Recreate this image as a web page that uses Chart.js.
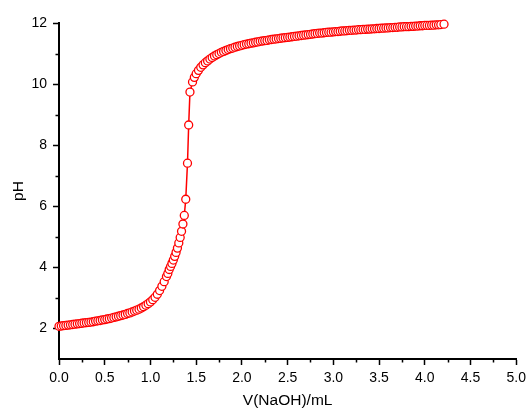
<!DOCTYPE html>
<html>
<head>
<meta charset="utf-8">
<script src="https://cdn.jsdelivr.net/npm/chart.js@4.4.1/dist/chart.umd.min.js"></script>
<style>
  body { margin: 0; background: #fff; }
  #wrap { width: 531px; height: 412px; }
</style>
</head>
<body>
<div id="wrap"><canvas id="titration" width="531" height="412"></canvas></div>
<script>
// titration data
var volumes = [
  0.000, 0.025, 0.050, 0.075, 0.100, 0.125, 0.150, 0.175, 0.200, 0.225,
  0.250, 0.275, 0.300, 0.325, 0.350, 0.375, 0.400, 0.425, 0.450, 0.475,
  0.500, 0.525, 0.550, 0.575, 0.600, 0.625, 0.650, 0.675, 0.700, 0.725,
  0.750, 0.775, 0.800, 0.825, 0.850, 0.875, 0.900, 0.925, 0.950, 0.975,
  1.000, 1.025, 1.050, 1.075, 1.100, 1.125, 1.150, 1.175,
  1.190, 1.205, 1.220, 1.235, 1.250, 1.265, 1.280, 1.295, 1.310, 1.325,
  1.340, 1.355, 1.370, 1.386, 1.405, 1.418, 1.432, 1.460, 1.480,
  1.500, 1.525, 1.550, 1.575, 1.600, 1.625, 1.650, 1.675, 1.700, 1.725,
  1.750, 1.775, 1.800, 1.825, 1.850, 1.875, 1.900, 1.925, 1.950, 1.975,
  2.000, 2.025, 2.050, 2.075, 2.100, 2.125, 2.150, 2.175, 2.200, 2.225,
  2.250, 2.275, 2.300, 2.325, 2.350, 2.375, 2.400, 2.425, 2.450, 2.475,
  2.500, 2.525, 2.550, 2.575, 2.600, 2.625, 2.650, 2.675, 2.700, 2.725,
  2.750, 2.775, 2.800, 2.825, 2.850, 2.875, 2.900, 2.925, 2.950, 2.975,
  3.000, 3.025, 3.050, 3.075, 3.100, 3.125, 3.150, 3.175, 3.200, 3.225,
  3.250, 3.275, 3.300, 3.325, 3.350, 3.375, 3.400, 3.425, 3.450, 3.475,
  3.500, 3.525, 3.550, 3.575, 3.600, 3.625, 3.650, 3.675, 3.700, 3.725,
  3.750, 3.775, 3.800, 3.825, 3.850, 3.875, 3.900, 3.925, 3.950, 3.975,
  4.000, 4.025, 4.050, 4.075, 4.100, 4.125, 4.150, 4.175, 4.210
];
var phValues = [
  2.07, 2.08, 2.09, 2.10, 2.11, 2.12, 2.13, 2.14, 2.15, 2.16,
  2.17, 2.18, 2.19, 2.20, 2.21, 2.22, 2.24, 2.25, 2.26, 2.28,
  2.29, 2.31, 2.32, 2.34, 2.36, 2.38, 2.40, 2.42, 2.44, 2.46,
  2.49, 2.51, 2.54, 2.57, 2.60, 2.63, 2.67, 2.71, 2.76, 2.81,
  2.87, 2.94, 3.02, 3.12, 3.24, 3.38, 3.53, 3.70,
  3.80, 3.93, 4.03, 4.13, 4.24, 4.36, 4.49, 4.63, 4.80, 4.98,
  5.18, 5.42, 5.70, 6.23, 7.41, 8.66, 9.74, 10.07, 10.22,
  10.34, 10.45, 10.55, 10.63, 10.70, 10.76, 10.82, 10.87, 10.92, 10.96,
  11.00, 11.04, 11.07, 11.10, 11.13, 11.16, 11.18, 11.21, 11.23, 11.25,
  11.27, 11.29, 11.31, 11.32, 11.34, 11.35, 11.37, 11.38, 11.40, 11.41,
  11.42, 11.43, 11.45, 11.46, 11.47, 11.48, 11.49, 11.50, 11.51, 11.52,
  11.53, 11.54, 11.55, 11.56, 11.57, 11.58, 11.59, 11.60, 11.61, 11.62,
  11.63, 11.64, 11.65, 11.66, 11.67, 11.67, 11.68, 11.69, 11.70, 11.70,
  11.71, 11.72, 11.72, 11.73, 11.74, 11.74, 11.75, 11.76, 11.76, 11.77,
  11.77, 11.78, 11.78, 11.79, 11.79, 11.80, 11.80, 11.81, 11.81, 11.82,
  11.82, 11.83, 11.83, 11.84, 11.84, 11.85, 11.85, 11.86, 11.86, 11.87,
  11.87, 11.88, 11.88, 11.88, 11.89, 11.89, 11.90, 11.90, 11.91, 11.91,
  11.92, 11.92, 11.92, 11.93, 11.93, 11.94, 11.94, 11.95, 11.96
];

// axis ticks
var xTicks = [0, 0.5, 1, 1.5, 2, 2.5, 3, 3.5, 4, 4.5, 5];
var xMinor = [0.25, 0.75, 1.25, 1.75, 2.25, 2.75, 3.25, 3.75, 4.25, 4.75];
var yTicks = [2, 4, 6, 8, 10, 12];
var yMinor = [3, 5, 7, 9, 11];

var FONT = "'Liberation Sans', Arial, sans-serif";

// short minor ticks, drawn off the library scales
var minorTicks = {
    id: 'minorTicks',
    afterDraw: function(chart) {
        var ctx = chart.ctx;
        var xs = chart.scales.x;
        var ys = chart.scales.y;
        ctx.save();
        ctx.strokeStyle = '#000';
        ctx.lineWidth = 1.5;
        ctx.beginPath();
        for (var i = 0; i < xMinor.length; i++) {
            var px = Math.round(xs.getPixelForValue(xMinor[i])) + 0.5;
            ctx.moveTo(px, ys.bottom);
            ctx.lineTo(px, ys.bottom + 3.5);
        }
        for (var j = 0; j < yMinor.length; j++) {
            var py = Math.round(ys.getPixelForValue(yMinor[j])) + 0.5;
            ctx.moveTo(xs.left, py);
            ctx.lineTo(xs.left - 3.5, py);
        }
        ctx.stroke();
        ctx.restore();
    }
};

var points = [];
for (var k = 0; k < volumes.length; k++) {
    points.push({ x: volumes[k], y: phValues[k] });
}

var chart = new Chart(document.getElementById('titration').getContext('2d'), {
    type: 'line',
    data: {
        datasets: [{
            data: points,
            borderColor: '#ff0000',
            borderWidth: 1.5,
            pointRadius: 4,
            pointBorderWidth: 1.3,
            pointBorderColor: '#ff0000',
            pointBackgroundColor: '#ffffff',
            tension: 0,
            clip: false
        }]
    },
    options: {
        responsive: false,
        animation: false,
        layout: { padding: { top: 23, right: 12, left: 0, bottom: 0 } },
        plugins: {
            legend: { display: false },
            tooltip: { enabled: false }
        },
        scales: {
            x: {
                type: 'linear',
                min: 0,
                max: 5,
                afterBuildTicks: function(scale) {
                    scale.ticks = xTicks.map(function(v) { return { value: v }; });
                },
                afterFit: function(scale) { scale.height = 53; },
                border: { display: true, color: '#000', width: 2 },
                grid: { drawOnChartArea: false, tickLength: 6, tickColor: '#000', tickWidth: 1.5 },
                ticks: {
                    color: '#000',
                    padding: 5,
                    maxRotation: 0,
                    font: { family: FONT, size: 14 },
                    callback: function(v) { return Number(v).toFixed(1); }
                },
                title: {
                    display: true,
                    text: 'V(NaOH)/mL',
                    color: '#000',
                    padding: { top: 4, bottom: 2 },
                    font: { family: FONT, size: 15.5 }
                }
            },
            y: {
                min: 1,
                max: 12,
                afterBuildTicks: function(scale) {
                    scale.ticks = yTicks.map(function(v) { return { value: v }; });
                },
                afterFit: function(scale) { scale.width = 59; },
                border: { display: true, color: '#000', width: 2 },
                grid: { drawOnChartArea: false, tickLength: 6, tickColor: '#000', tickWidth: 1.5 },
                ticks: {
                    color: '#000',
                    padding: 6,
                    font: { family: FONT, size: 14 }
                },
                title: {
                    display: true,
                    text: 'pH',
                    color: '#000',
                    padding: { top: 9, bottom: 0 },
                    font: { family: FONT, size: 15.5 }
                }
            }
        }
    },
    plugins: [minorTicks]
});
</script>
</body>
</html>
